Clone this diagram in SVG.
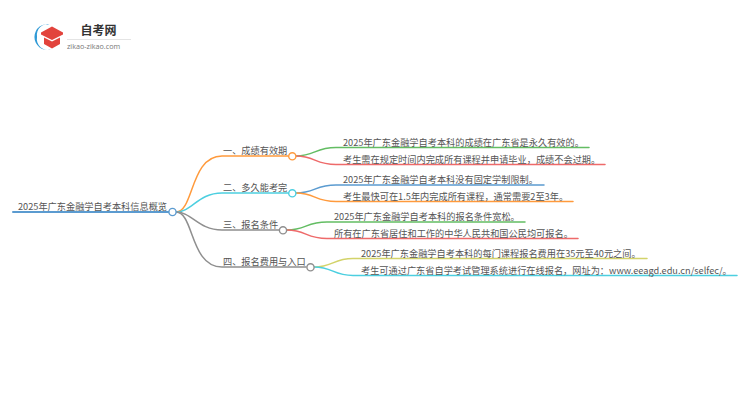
<svg xmlns="http://www.w3.org/2000/svg" width="750" height="410" viewBox="0 0 750 410">
<style>
text{font-family:"Noto Sans CJK SC","Noto Sans",sans-serif;font-size:9.200px;fill:#555}
.c{fill:none;stroke-width:1.500;stroke-linecap:round}
.n{fill:#fff;stroke-width:1.400}
.o{stroke:#ff9a3c}.b{stroke:#4ccfe0}.g{stroke:#8f8f8f}.gr{stroke:#63bd63}.r{stroke:#ee6a6a}.bl{stroke:#5b9bd0}.y{stroke:#d3d36a}
</style>
<rect width="750" height="410" fill="#fff"/>
<g id="logo">
<path d="M51 24.500A13 13 0 1 0 51 49.500A11 11 0 0 1 37 37A11 11 0 0 1 51 24.500Z" fill="#2f9ad6"/>
<path d="M52 26.500L63 32.500V34.500L52 40L41 34.500V32.500Z" fill="#e2433c"/>
<path d="M44 37.500L52 41.500L60 37.500V44L52 48.500L44 44Z" fill="#e2433c"/>
<text x="80.500" y="35" style="font-size:12px;font-weight:700;fill:#333">自考网</text>
<rect x="67" y="39" width="64" height="1" fill="#e4e4e4"/>
<text x="67" y="48.500" style="font-size:7.200px;font-family:'Open Sans',sans-serif;fill:#777">zikao-zikao.com</text>
</g>
<g id="connectors">
<path class="c bl" style="stroke-width:2" d="M13 212H172"/>
<path class="c o" d="M176 212C194 212 190 156 222 156H288"/>
<path class="c b" d="M176 212C192 212 198 193 222 193H288"/>
<path class="c g" d="M176 212C192 212 198 230 222 230H279"/>
<path class="c g" d="M176 212C194 212 190 267 222 267H306"/>
<path class="c gr" d="M296 156C315 156 315 147.500 336 147.500H589"/>
<path class="c r" d="M296 156C315 156 315 164.500 336 164.500H605"/>
<path class="c bl" d="M296 193C315 193 315 185 336 185H544"/>
<path class="c o" d="M296 193C315 193 315 201.500 336 201.500H573"/>
<path class="c gr" d="M287 230C306 230 306 222 327 222H525"/>
<path class="c r" d="M287 230C306 230 306 238.500 327 238.500H578"/>
<path class="c y" d="M314 267C333 267 333 258.500 353 258.500H647"/>
<path class="c b" d="M314 267C333 267 333 275.500 353 275.500H737"/>
</g>
<g id="root"><circle class="n bl" cx="172.500" cy="212" r="3.600"/><text x="18" y="210">2025年广东金融学自考本科信息概览</text></g>
<g id="b1"><circle class="n o" cx="292.300" cy="156.300" r="3.600"/><text x="223" y="154">一、成绩有效期</text></g>
<g id="b2"><circle class="n b" cx="292.300" cy="193.300" r="3.600"/><text x="223" y="191">二、多久能考完</text></g>
<g id="b3"><circle class="n g" cx="283" cy="230.300" r="3.600"/><text x="223" y="228">三、报名条件</text></g>
<g id="b4"><circle class="n g" cx="310.500" cy="267.300" r="3.600"/><text x="223" y="265">四、报名费用与入口</text></g>
<g id="l1"><text x="343" y="146">2025年广东金融学自考本科的成绩在广东省是永久有效的。</text></g>
<g id="l2"><text x="343" y="162.500">考生需在规定时间内完成所有课程并申请毕业，成绩不会过期。</text></g>
<g id="l3"><text x="343" y="183">2025年广东金融学自考本科没有固定学制限制。</text></g>
<g id="l4"><text x="343" y="199.500">考生最快可在1.5年内完成所有课程，通常需要2至3年。</text></g>
<g id="l5"><text x="334" y="220">2025年广东金融学自考本科的报名条件宽松。</text></g>
<g id="l6"><text x="334" y="236.500">所有在广东省居住和工作的中华人民共和国公民均可报名。</text></g>
<g id="l7"><text x="361" y="257">2025年广东金融学自考本科的每门课程报名费用在35元至40元之间。</text></g>
<g id="l8"><text x="361" y="273.500">考生可通过广东省自学考试管理系统进行在线报名，网址为：www.eeagd.edu.cn/selfec/。</text></g>
</svg>
